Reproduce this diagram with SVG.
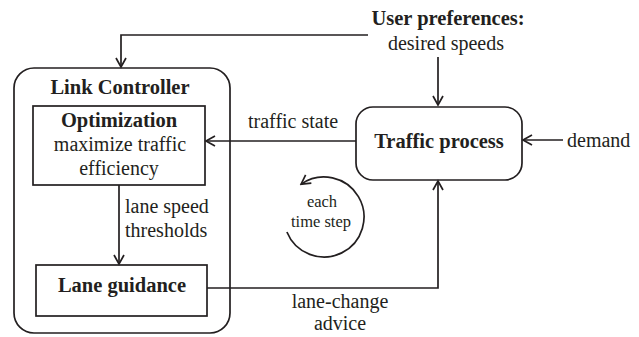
<svg xmlns="http://www.w3.org/2000/svg" width="639" height="337" viewBox="0 0 639 337" font-family="'Liberation Serif', 'Times New Roman', Times, serif">
<style>
text{font-family:'Liberation Serif','Times New Roman',Times,serif;fill:#231f20;font-size:20px}
.b{font-weight:bold;font-size:20.5px}
.m{text-anchor:middle}
.s{font-size:16.5px}
.box{fill:none;stroke:#231f20;stroke-width:1.7}
.ln{fill:none;stroke:#231f20;stroke-width:1.7}
</style>
<defs>
<marker id="ah" markerWidth="12" markerHeight="12" viewBox="-10 -6 12 12" refX="0" refY="0" orient="auto" markerUnits="userSpaceOnUse">
<path d="M-9,-5 L0,0 L-9,5" fill="none" stroke="#231f20" stroke-width="1.7"/>
</marker>
</defs>
<rect width="639" height="337" fill="#fff"/>
<g id="link-controller">
<rect class="box" x="14" y="68" width="216" height="265" rx="20"/>
<text class="b m" x="120" y="94">Link Controller</text>
</g>
<g id="optimization">
<rect class="box" x="33" y="106" width="172" height="79"/>
<text class="b m" x="119" y="127">Optimization</text>
<text class="m" x="120" y="151">maximize traffic</text>
<text class="m" x="119" y="175">efficiency</text>
</g>
<g id="lane-guidance">
<rect class="box" x="36" y="265" width="171" height="51"/>
<text class="b m" x="122" y="292">Lane guidance</text>
</g>
<g id="traffic-process">
<rect class="box" x="356" y="107" width="166" height="73" rx="17"/>
<text class="b m" x="439" y="148">Traffic process</text>
</g>
<g id="user-preferences">
<text class="b m" x="448" y="25">User preferences:</text>
<text class="m" x="446" y="50">desired speeds</text>
</g>
<g id="demand">
<text x="567" y="147">demand</text>
</g>
<g id="time-step">
<path class="ln" d="M286.9,232 A40,40 0 1 0 301.1,184.2" marker-end="url(#ah)"/>
<text class="s m" x="322" y="207">each</text>
<text class="s m" x="321" y="227">time step</text>
</g>
<g id="connectors">
<path class="ln" d="M368,35 H121 V67" marker-end="url(#ah)"/>
<path class="ln" d="M438,57 V105" marker-end="url(#ah)"/>
<path class="ln" d="M356,141 H206" marker-end="url(#ah)"/>
<text x="248" y="128">traffic state</text>
<path class="ln" d="M563,140 H523" marker-end="url(#ah)"/>
<path class="ln" d="M119,185 V264" marker-end="url(#ah)"/>
<text x="125" y="213">lane speed</text>
<text x="125" y="237">thresholds</text>
<path class="ln" d="M207,288 H438 V181" marker-end="url(#ah)"/>
<text class="m" x="340" y="308">lane-change</text>
<text class="m" x="340" y="330">advice</text>
</g>
</svg>
